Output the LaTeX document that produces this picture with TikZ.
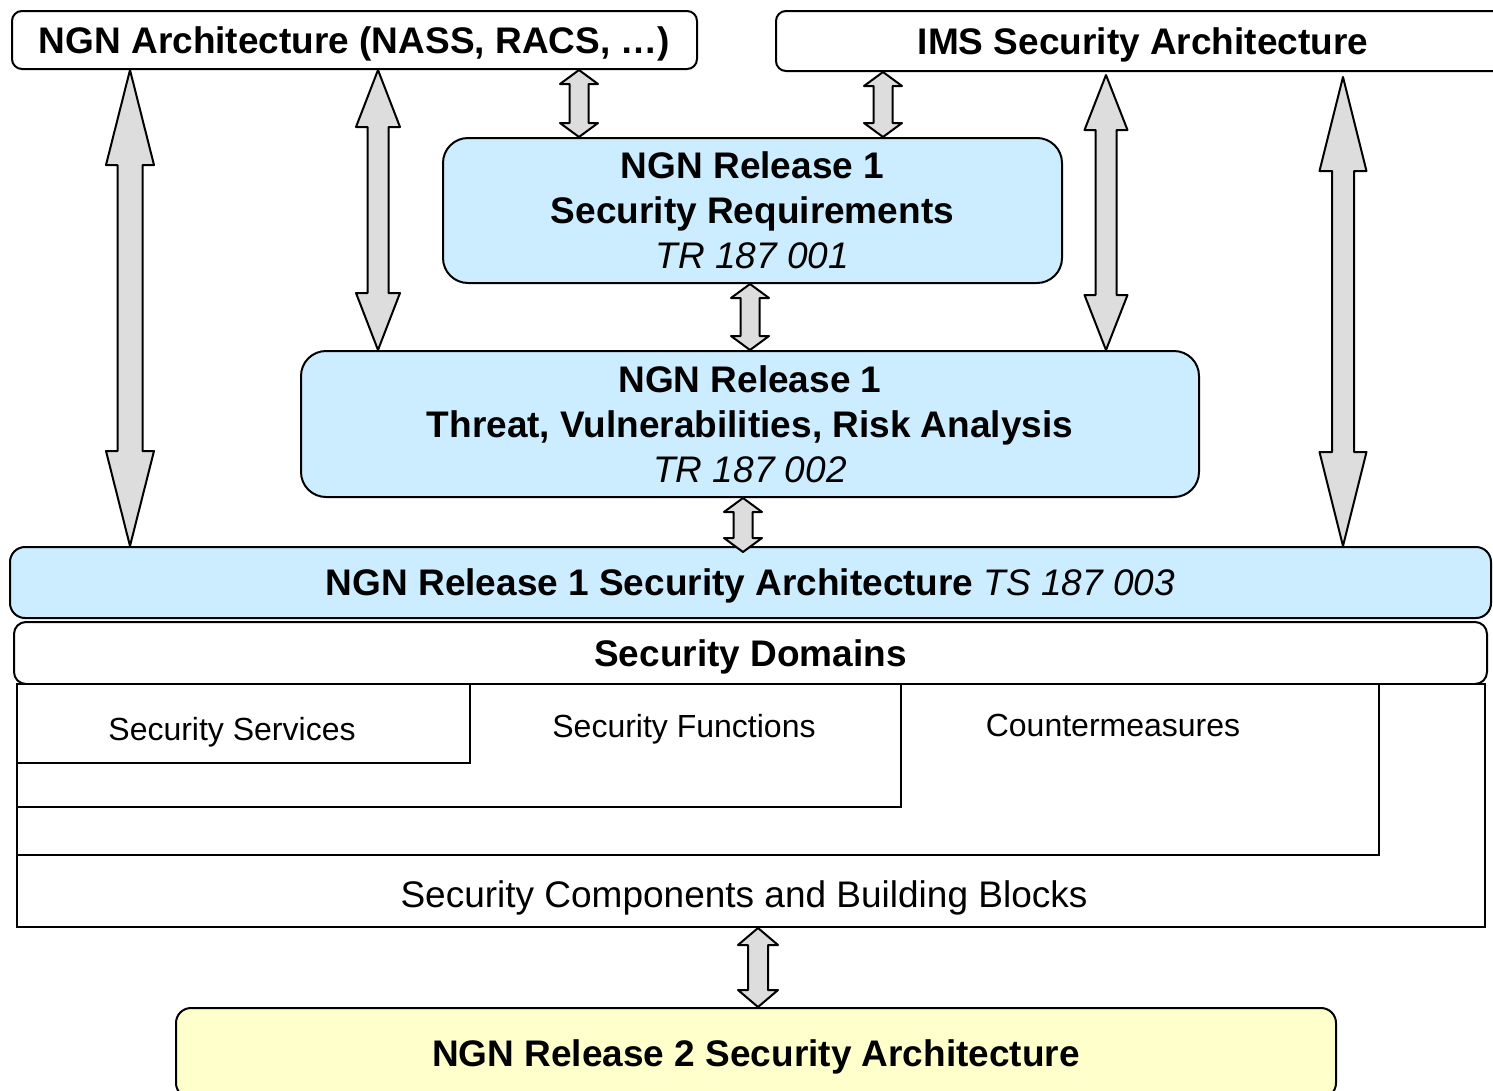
\documentclass[tikz,border=0pt]{standalone}
\usepackage{fontspec}
\setmainfont{Liberation Sans}
\usetikzlibrary{calc}

\definecolor{paleblue}{HTML}{CCECFF}
\definecolor{paleyellow}{HTML}{FFFFCC}
\definecolor{arrowgray}{HTML}{DDDDDD}

\newcommand\titlefont{\fontsize{37}{45}\selectfont\bfseries}
\newcommand\plainfont{\fontsize{32}{38}\selectfont}
\newcommand\widefont{\fontsize{37}{44}\selectfont}

\tikzset{
  box/.style={draw=black, line width=2pt, inner sep=0pt, align=center, text=black, text depth=0pt},
  whitebox/.style={box, fill=white},
  bluebox/.style={box, fill=paleblue},
  yellowbox/.style={box, fill=paleyellow},
  label text/.style={inner sep=0pt, text=black, text depth=0pt},
  blockarrow/.style={draw=black, fill=arrowgray, line width=2pt, line join=round}
}

% vertical double-headed block arrow
% #1 x position, #2 upper end, #3 lower end,
% #4 half head width, #5 head length, #6 half shaft width
\newcommand\dblarrow[6]{%
  \draw[blockarrow] let \p1=(#2), \p2=(#3) in
    (#1pt,\y1) -- (#1pt+#4pt,\y1-#5pt) -- (#1pt+#6pt,\y1-#5pt)
    -- (#1pt+#6pt,\y2+#5pt) -- (#1pt+#4pt,\y2+#5pt) -- (#1pt,\y2)
    -- (#1pt-#4pt,\y2+#5pt) -- (#1pt-#6pt,\y2+#5pt)
    -- (#1pt-#6pt,\y1-#5pt) -- (#1pt-#4pt,\y1-#5pt) -- cycle;}

\begin{document}
\begin{tikzpicture}[x=1pt, y=-1pt]
\useasboundingbox (0,0) rectangle (1493,1090);
\clip (0,0) rectangle (1493,1090);

% top row
\node[whitebox, rounded corners=10pt, minimum width=685pt, minimum height=58pt, font=\titlefont]
  (arch) at (354.5,40) {NGN Architecture (NASS, RACS, …)};
\node[whitebox, rounded corners=10pt, minimum width=734pt, minimum height=60pt, font=\titlefont]
  (ims) at (1143,41) {IMS Security Architecture};

% release 1 documents
\node[bluebox, rounded corners=25pt, minimum width=619pt, minimum height=145pt, font=\titlefont]
  (req) at (752.5,210.5) {NGN Release 1\\Security Requirements\\{\mdseries\itshape TR 187 001}};
\node[bluebox, rounded corners=25pt, minimum width=898pt, minimum height=146pt, font=\titlefont]
  (threat) at (750,424) {NGN Release 1\\Threat, Vulnerabilities, Risk Analysis\\{\mdseries\itshape TR 187 002}};

% security architecture bar
\node[bluebox, rounded corners=15pt, minimum width=1481pt, minimum height=71pt, font=\titlefont]
  (bar) at (750.5,582.5) {NGN Release 1 Security Architecture {\mdseries\itshape TS 187 003}};
\node[whitebox, rounded corners=12pt, minimum width=1473pt, minimum height=62pt, font=\titlefont]
  (domains) at (750.5,653) {Security Domains};

% nested building blocks
\node[whitebox, minimum width=1468pt, minimum height=243pt] (comp) at (751,805.5) {};
\node[whitebox, minimum width=1362pt, minimum height=171pt] (counter) at (698,769.5) {};
\node[whitebox, minimum width=884pt, minimum height=123pt] (func) at (459,745.5) {};
\node[whitebox, minimum width=453pt, minimum height=79pt] (serv) at (243.5,723.5) {};
\node[label text, font=\plainfont] (servtxt) at (232,729) {Security Services};
\node[label text, font=\plainfont] (functxt) at (684,726) {Security Functions};
\node[label text, font=\plainfont] (countertxt) at (1113,725) {Countermeasures};
\node[label text, font=\widefont] (comptxt) at (744,894) {Security Components and Building Blocks};

% release 2
\node[yellowbox, rounded corners=15pt, minimum width=1160pt, minimum height=90pt, font=\titlefont]
  (rel2) at (756,1053) {NGN Release 2 Security Architecture};

% relations
\dblarrow{130}{arch.south}{bar.north}{24}{95}{12.5}
\dblarrow{378}{arch.south}{threat.north}{22}{57}{10.5}
\dblarrow{579}{arch.south}{req.north}{19}{14}{9.5}
\dblarrow{883}{ims.south}{req.north}{19}{14}{9.5}
\dblarrow{750}{req.south}{threat.north}{19}{14}{9.5}
\dblarrow{1106}{$(ims.south)+(0pt,-3pt)$}{threat.north}{21.5}{55}{10.5}
\dblarrow{1343}{$(ims.south)+(0pt,-5pt)$}{bar.north}{23.5}{94}{11}
\dblarrow{743}{threat.south}{$(bar.north)+(0pt,-6pt)$}{19}{14}{9.5}
\dblarrow{758}{comp.south}{rel2.north}{20}{17}{10}
\end{tikzpicture}
\end{document}
